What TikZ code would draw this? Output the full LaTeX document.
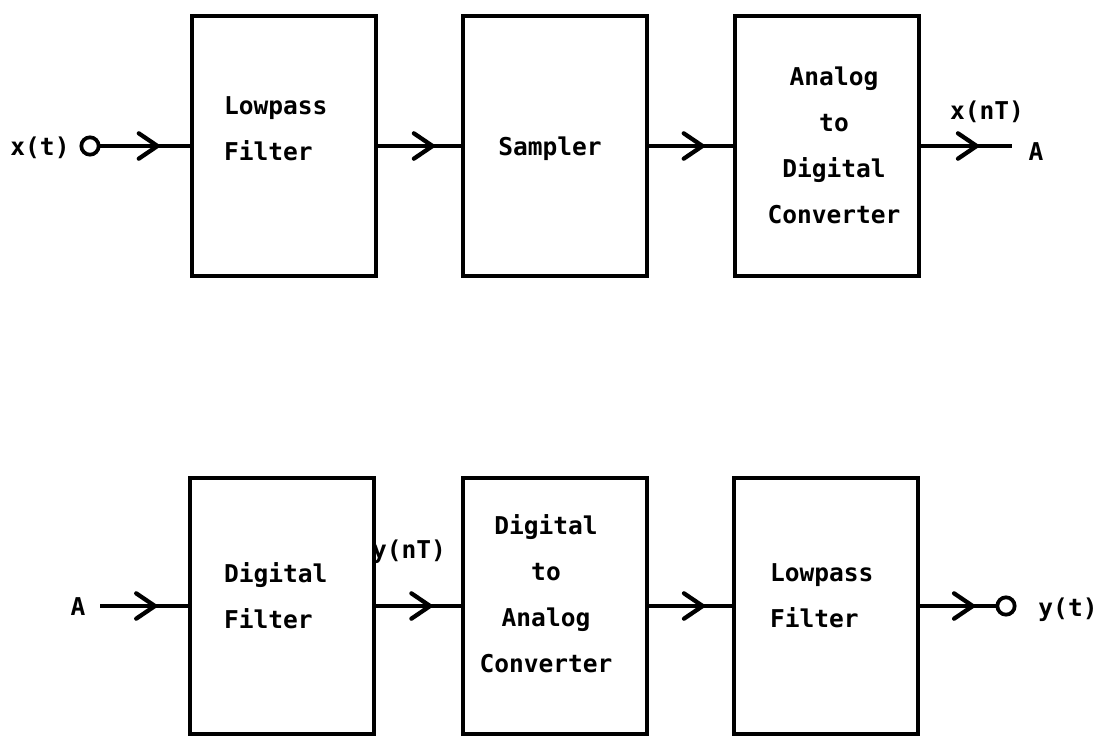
\documentclass[tikz,border=0pt]{standalone}
\usepackage{fontspec}
\newfontfamily\monof{DejaVu Sans Mono}
\usetikzlibrary{decorations.markings}
\begin{document}
\begin{tikzpicture}[x=0.75pt,y=-0.75pt,
  blk/.style={draw, line width=3.2pt, minimum width=138pt, inner sep=0pt, outer sep=0pt},
  toprow/.style={minimum height=195pt},
  botrow/.style={minimum height=192pt},
  txt/.style={font=\monof\bfseries\fontsize{18.4}{34.5}\selectfont, inner sep=0pt, outer sep=0pt},
  flow/.style={line width=3.2pt, postaction={decorate},
    decoration={markings, mark=at position #1 with {\draw[line width=3.2pt, line cap=round, line join=round] (-14pt,-9.5pt) -- (0pt,0pt) -- (-14pt,9.5pt);}}},
  term/.style={draw, circle, line width=2.8pt, minimum size=13pt, inner sep=0pt, outer sep=0pt}
]
\useasboundingbox (0,0) rectangle (1103,736);

% top row
\node[blk,toprow] (b1) at (284,146) {};
\node[blk,toprow] (b2) at (555,146) {};
\node[blk,toprow] (b3) at (827,146) {};
\node[txt,align=left,anchor=west] (t1) at (224,129) {Lowpass\\Filter};
\node[txt] (t2) at (550,149) {Sampler};
\node[txt,align=center] (t3) at (834,145) {Analog\\to\\Digital\\Converter};

\node[term] (cin) at (90,146) {};
\node[txt] (xt) at (40,148) {x(t)};
\coordinate (aout) at (1012,146);
\node[txt] (xnT) at (987,112) {x(nT)};
\node[txt] (A1) at (1036,152) {A};

\draw[flow=0.63] (cin) -- (b1.west);
\draw[flow=0.65] (b1.east) -- (b2.west);
\draw[flow=0.63] (b2.east) -- (b3.west);
\draw[flow=0.62] (b3.east) -- (aout);

% bottom row
\node[blk,botrow] (b4) at (282,606) {};
\node[blk,botrow] (b5) at (555,606) {};
\node[blk,botrow] (b6) at (826,606) {};
\node[txt,align=left,anchor=west] (t4) at (224,596) {Digital\\Filter};
\node[txt,align=center] (t5) at (546,594) {Digital\\to\\Analog\\Converter};
\node[txt,align=left,anchor=west] (t6) at (770,596) {Lowpass\\Filter};

\coordinate (ain) at (100,606);
\node[txt] (A2) at (78,607) {A};
\node[txt] (ynT) at (409,552) {y(nT)};
\node[term] (cout) at (1006,606) {};
\node[txt] (yt) at (1068,610) {y(t)};

\draw[flow=0.61] (ain) -- (b4.west);
\draw[flow=0.63] (b4.east) -- (b5.west);
\draw[flow=0.64] (b5.east) -- (b6.west);
\draw[flow=0.69] (b6.east) -- (cout);
\end{tikzpicture}
\end{document}
